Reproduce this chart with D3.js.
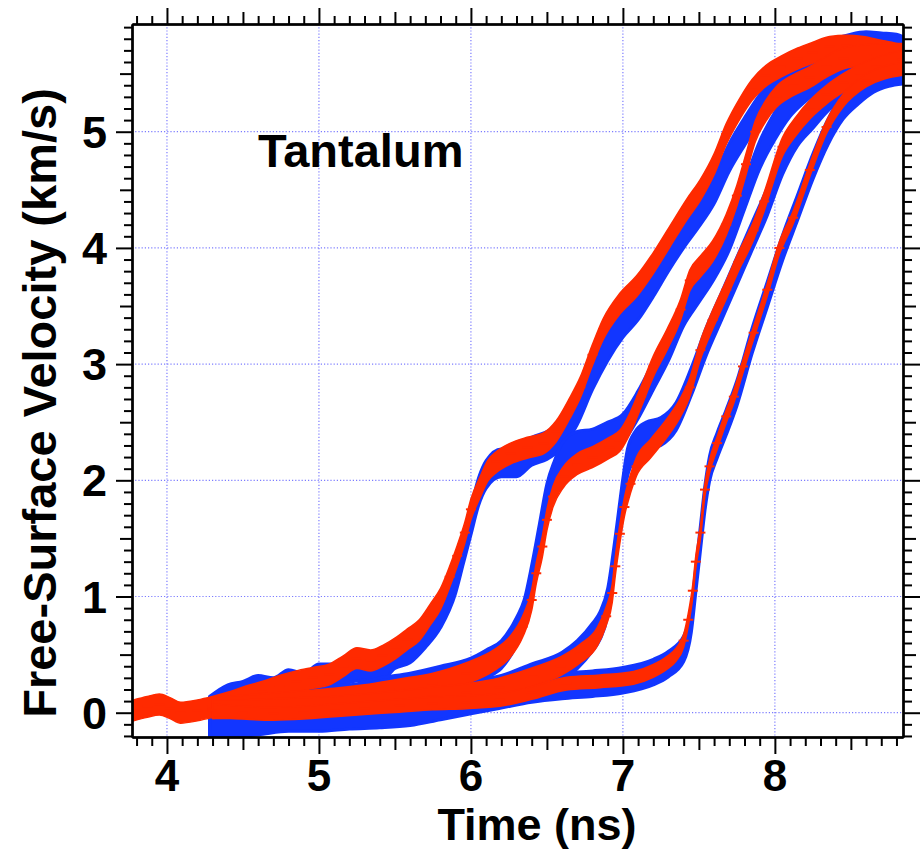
<!DOCTYPE html>
<html>
<head>
<meta charset="utf-8">
<script src="https://cdn.jsdelivr.net/npm/d3@7"></script>
<style>
  body { margin: 0; background: #fff; }
  text { font-family: "Liberation Sans", Arial, sans-serif; font-weight: bold; fill: #000; }
</style>
</head>
<body>
<svg id="chart"></svg>
<script>
// tick labels
const xTickLabels = [4, 5, 6, 7, 8];
const yTickLabels = [0, 1, 2, 3, 4, 5];

// blue traces (time in ns, velocity in km/s)
const blueT1 = [4.28, 4.4, 4.5, 4.6, 4.7, 4.8, 4.9, 5.0, 5.1, 5.2, 5.3, 5.4, 5.5, 5.6, 5.7, 5.8, 5.9, 5.95, 6.0, 6.05, 6.1, 6.2, 6.3, 6.4, 6.5, 6.6, 6.7, 6.8, 6.9, 7.0, 7.1, 7.2, 7.3, 7.4, 7.5, 7.6, 7.7, 7.8, 7.9, 8.0, 8.1, 8.2, 8.3, 8.4, 8.5, 8.6, 8.7, 8.8, 8.84];
const blueV1 = [0.02, 0.12, 0.15, 0.2, 0.18, 0.25, 0.22, 0.3, 0.3, 0.38, 0.4, 0.38, 0.5, 0.55, 0.68, 0.85, 1.15, 1.4, 1.65, 1.9, 2.05, 2.15, 2.15, 2.25, 2.3, 2.4, 2.6, 2.9, 3.15, 3.35, 3.5, 3.7, 3.92, 4.12, 4.3, 4.5, 4.78, 5.0, 5.2, 5.35, 5.45, 5.52, 5.6, 5.68, 5.72, 5.74, 5.73, 5.72, 5.7];

const blueT2 = [4.28, 4.4, 4.6, 4.8, 5.0, 5.2, 5.4, 5.6, 5.8, 6.0, 6.1, 6.2, 6.3, 6.35, 6.4, 6.45, 6.5, 6.55, 6.6, 6.7, 6.8, 6.9, 7.0, 7.1, 7.2, 7.3, 7.4, 7.5, 7.6, 7.7, 7.8, 7.9, 8.0, 8.1, 8.2, 8.3, 8.4, 8.5, 8.6, 8.7, 8.84];
const blueV2 = [0.0, 0.05, 0.05, 0.1, 0.12, 0.12, 0.18, 0.22, 0.28, 0.35, 0.42, 0.5, 0.7, 0.85, 1.15, 1.5, 1.85, 2.05, 2.2, 2.3, 2.32, 2.38, 2.45, 2.65, 2.9, 3.15, 3.45, 3.65, 3.85, 4.1, 4.45, 4.8, 5.05, 5.25, 5.38, 5.48, 5.55, 5.6, 5.65, 5.68, 5.68];

const blueT3 = [4.28, 4.4, 4.6, 4.8, 5.0, 5.2, 5.4, 5.6, 5.8, 6.0, 6.2, 6.4, 6.6, 6.7, 6.8, 6.85, 6.9, 6.94, 6.97, 7.0, 7.03, 7.08, 7.15, 7.25, 7.35, 7.45, 7.55, 7.65, 7.75, 7.85, 7.95, 8.05, 8.15, 8.25, 8.35, 8.45, 8.55, 8.65, 8.75, 8.84];
const blueV3 = [-0.05, -0.08, -0.05, -0.02, 0.0, 0.02, 0.05, 0.1, 0.12, 0.15, 0.2, 0.3, 0.4, 0.5, 0.65, 0.75, 0.95, 1.3, 1.6, 1.9, 2.15, 2.3, 2.38, 2.42, 2.55, 2.85, 3.2, 3.5, 3.8, 4.1, 4.4, 4.75, 5.0, 5.15, 5.3, 5.4, 5.48, 5.52, 5.55, 5.55];

const blueT4 = [4.28, 4.4, 4.6, 4.8, 5.0, 5.2, 5.4, 5.6, 5.8, 6.0, 6.2, 6.4, 6.6, 6.8, 7.0, 7.2, 7.3, 7.4, 7.45, 7.48, 7.51, 7.54, 7.57, 7.62, 7.68, 7.75, 7.85, 7.95, 8.05, 8.15, 8.25, 8.35, 8.45, 8.55, 8.65, 8.75, 8.84];
const blueV4 = [-0.1, -0.1, -0.08, -0.05, -0.05, -0.03, -0.02, 0.0, 0.05, 0.1, 0.15, 0.2, 0.23, 0.25, 0.28, 0.35, 0.42, 0.55, 0.8, 1.15, 1.5, 1.85, 2.1, 2.3, 2.5, 2.75, 3.2, 3.6, 4.0, 4.35, 4.7, 5.0, 5.22, 5.35, 5.45, 5.5, 5.52];

// red traces
const redT1 = [3.78, 3.87, 3.95, 4.02, 4.09, 4.2, 4.3, 4.41, 4.52, 4.63, 4.74, 4.85, 4.96, 5.07, 5.16, 5.25, 5.34, 5.42, 5.51, 5.58, 5.66, 5.73, 5.8, 5.86, 5.91, 5.96, 6.0, 6.06, 6.11, 6.17, 6.26, 6.37, 6.48, 6.56, 6.65, 6.72, 6.8, 6.87, 6.98, 7.09, 7.2, 7.31, 7.42, 7.51, 7.6, 7.68, 7.77, 7.85, 7.94, 8.04, 8.15, 8.25, 8.36, 8.47, 8.58, 8.69, 8.8, 8.84];
const redV1 = [0.02, 0.05, 0.07, 0.04, 0.0, 0.02, 0.05, 0.09, 0.14, 0.18, 0.23, 0.27, 0.3, 0.33, 0.4, 0.47, 0.45, 0.49, 0.56, 0.63, 0.71, 0.84, 0.98, 1.17, 1.35, 1.55, 1.75, 1.94, 2.08, 2.16, 2.23, 2.28, 2.32, 2.42, 2.62, 2.8, 3.08, 3.3, 3.52, 3.67, 3.87, 4.1, 4.33, 4.5, 4.72, 4.98, 5.2, 5.36, 5.48, 5.56, 5.63, 5.68, 5.73, 5.74, 5.73, 5.7, 5.67, 5.66];

const redT2 = [4.3, 4.5, 4.7, 4.9, 5.1, 5.3, 5.53, 5.75, 5.97, 6.15, 6.26, 6.34, 6.4, 6.43, 6.47, 6.5, 6.54, 6.61, 6.7, 6.8, 6.91, 6.98, 7.05, 7.12, 7.2, 7.29, 7.38, 7.44, 7.51, 7.59, 7.68, 7.75, 7.81, 7.87, 7.94, 8.01, 8.12, 8.23, 8.34, 8.45, 8.6, 8.78, 8.84];
const redV2 = [0.04, 0.06, 0.08, 0.1, 0.12, 0.15, 0.2, 0.25, 0.34, 0.45, 0.57, 0.74, 0.97, 1.2, 1.43, 1.66, 1.86, 2.03, 2.14, 2.2, 2.28, 2.34, 2.5, 2.72, 2.98, 3.21, 3.47, 3.72, 3.84, 3.97, 4.2, 4.45, 4.72, 5.0, 5.18, 5.3, 5.4, 5.47, 5.56, 5.63, 5.66, 5.67, 5.67];

const redT3 = [4.3, 4.5, 4.7, 4.9, 5.1, 5.3, 5.53, 5.75, 5.97, 6.19, 6.41, 6.59, 6.72, 6.83, 6.89, 6.93, 6.95, 6.98, 7.01, 7.05, 7.09, 7.18, 7.29, 7.38, 7.44, 7.51, 7.59, 7.68, 7.76, 7.86, 7.93, 8.05, 8.14, 8.23, 8.34, 8.45, 8.56, 8.67, 8.84];
const redV3 = [0.03, 0.03, 0.04, 0.05, 0.06, 0.08, 0.11, 0.14, 0.17, 0.22, 0.31, 0.4, 0.51, 0.65, 0.83, 1.03, 1.26, 1.54, 1.77, 1.97, 2.12, 2.27, 2.45, 2.63, 2.8, 3.12, 3.38, 3.64, 3.88, 4.15, 4.4, 4.87, 5.05, 5.19, 5.32, 5.42, 5.5, 5.56, 5.62];

const redT4 = [4.3, 4.5, 4.7, 4.9, 5.1, 5.3, 5.53, 5.75, 5.97, 6.19, 6.4, 6.63, 6.85, 7.07, 7.2, 7.29, 7.35, 7.4, 7.43, 7.46, 7.48, 7.51, 7.54, 7.57, 7.62, 7.68, 7.73, 7.79, 7.86, 7.95, 8.03, 8.12, 8.23, 8.34, 8.45, 8.6, 8.84];
const redV4 = [0.02, 0.0, -0.01, 0.0, 0.02, 0.04, 0.06, 0.08, 0.09, 0.11, 0.17, 0.25, 0.27, 0.3, 0.36, 0.43, 0.5, 0.62, 0.8, 1.05, 1.3, 1.55, 1.92, 2.12, 2.32, 2.55, 2.72, 2.98, 3.27, 3.64, 4.0, 4.26, 4.67, 5.04, 5.27, 5.44, 5.54];

const svgW = 921, svgH = 851;
const plotL = 132, plotR = 903, plotT = 24, plotB = 737;
const blue = "#1236ff", red = "#ff2a00";

const svg = d3.select("#chart")
  .attr("width", svgW)
  .attr("height", svgH);

svg.append("rect").attr("width", svgW).attr("height", svgH).attr("fill", "#fff");

const x = d3.scaleLinear().domain([3.77, 8.843]).range([plotL, plotR]);
const y = d3.scaleLinear().domain([-0.209, 5.927]).range([plotB, plotT]);

svg.append("clipPath").attr("id", "plotClip")
  .append("rect")
  .attr("x", plotL).attr("y", plotT)
  .attr("width", plotR - plotL).attr("height", plotB - plotT);

// dotted grid
const grid = svg.append("g");
grid.selectAll(".gx").data(xTickLabels).enter().append("line")
  .attr("x1", (d) => x(d)).attr("x2", (d) => x(d))
  .attr("y1", plotT).attr("y2", plotB);
grid.selectAll(".gy").data(yTickLabels).enter().append("line")
  .attr("x1", plotL).attr("x2", plotR)
  .attr("y1", (d) => y(d)).attr("y2", (d) => y(d));
grid.selectAll("line")
  .attr("stroke", "#7c7cff")
  .attr("stroke-width", 1.2)
  .attr("stroke-dasharray", "1.2,2");

const series = [
  {t: blueT1, v: blueV1, err: 0.12, color: blue},
  {t: blueT2, v: blueV2, err: 0.12, color: blue},
  {t: blueT3, v: blueV3, err: 0.12, color: blue},
  {t: blueT4, v: blueV4, err: 0.11, color: blue},
  {t: redT1, v: redV1, err: 0.09, color: red, marks: true},
  {t: redT2, v: redV2, err: 0.09, color: red, marks: true},
  {t: redT3, v: redV3, err: 0.08, color: red, marks: true},
  {t: redT4, v: redV4, err: 0.055, color: red, marks: true}
];

const plot = svg.append("g").attr("clip-path", "url(#plotClip)");

series.forEach((s) => {
  const pts = s.t.map((t, i) => ({t: t, v: s.v[i]}));
  const band = d3.area()
    .x((d) => x(d.t))
    .y0((d) => y(d.v - s.err))
    .y1((d) => y(d.v + s.err))
    .curve(d3.curveMonotoneX);
  plot.append("path")
    .datum(pts)
    .attr("d", band)
    .attr("fill", s.color)
    .attr("stroke", s.color)
    .attr("stroke-width", s.marks ? 1.5 : 3)
    .attr("stroke-linejoin", "round");
  if (s.marks) {
    plot.selectAll(null).data(pts).enter().append("line")
      .attr("x1", (d) => x(d.t) - 5).attr("x2", (d) => x(d.t) + 5)
      .attr("y1", (d) => y(d.v)).attr("y2", (d) => y(d.v))
      .attr("stroke", s.color)
      .attr("stroke-width", 2);
  }
});

// ticks on all four sides
const xAll = d3.range(38, 89).map((i) => i / 10);
const yAll = d3.range(-2, 60).map((i) => i / 10);
const isMajor = (d) => Math.abs(d - Math.round(d)) < 1e-6;
const isHalf = (d) => !isMajor(d) && Math.abs(d * 2 - Math.round(d * 2)) < 1e-6;
const xMinor = xAll.filter((d) => !isMajor(d) && !isHalf(d));
const xHalf = xAll.filter(isHalf);
const yMinor = yAll.filter((d) => !isMajor(d) && !isHalf(d));
const yHalf = yAll.filter(isHalf);
const yMajor = yAll.filter(isMajor);
const xMajor = xAll.filter(isMajor);

const drawAxis = (axisFn, scale, pos, vals, size) => {
  const a = axisFn(scale).tickValues(vals).tickSize(size).tickSizeOuter(0).tickFormat("");
  const g = svg.append("g").attr("transform", pos).call(a);
  g.selectAll("line").attr("stroke", "#000").attr("stroke-width", 2);
  g.select(".domain").attr("stroke", "#000").attr("stroke-width", 2);
  return g;
};

[[xMinor, 8], [xHalf, 12], [xMajor, 16]].forEach(([vals, size]) => {
  drawAxis(d3.axisTop, x, `translate(0,${plotT})`, vals, size);
  drawAxis(d3.axisBottom, x, `translate(0,${plotB})`, vals, size + 1);
});
[[yMinor, 8], [yHalf, 12], [yMajor, 16]].forEach(([vals, size]) => {
  drawAxis(d3.axisLeft, y, `translate(${plotL},0)`, vals, size);
  drawAxis(d3.axisRight, y, `translate(${plotR},0)`, vals, size + 1);
});

// tick labels
svg.selectAll(".xl").data(xTickLabels).enter().append("text")
  .attr("x", (d) => x(d))
  .attr("y", 791)
  .attr("text-anchor", "middle")
  .attr("font-size", 44)
  .text((d) => d);

svg.selectAll(".yl").data(yTickLabels).enter().append("text")
  .attr("x", 107)
  .attr("y", (d) => y(d) + 16)
  .attr("text-anchor", "end")
  .attr("font-size", 45)
  .text((d) => d);

// titles
svg.append("text")
  .attr("x", 537)
  .attr("y", 840)
  .attr("text-anchor", "middle")
  .attr("font-size", 45)
  .text("Time (ns)");

svg.append("text")
  .attr("transform", "translate(56,403) rotate(-90)")
  .attr("text-anchor", "middle")
  .attr("font-size", 47)
  .text("Free-Surface Velocity (km/s)");

svg.append("text")
  .attr("x", 258)
  .attr("y", 167)
  .attr("font-size", 47)
  .text("Tantalum");
</script>
</body>
</html>
